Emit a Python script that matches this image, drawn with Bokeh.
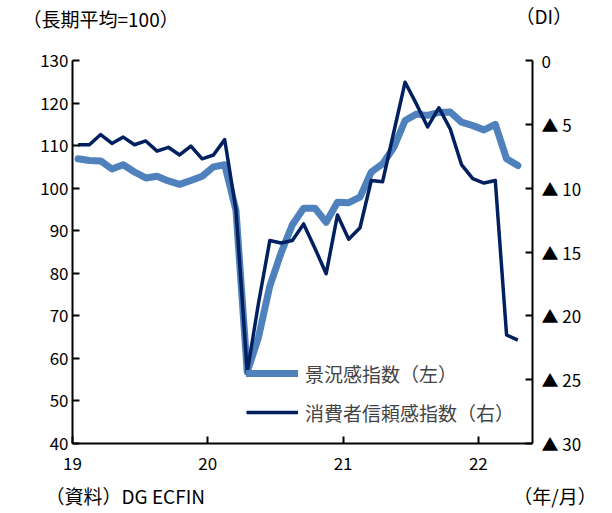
from bokeh.plotting import figure
from bokeh.models import Range1d, LinearAxis, FixedTicker, Label, Legend, LegendItem
from bokeh.embed import file_html
from bokeh.resources import INLINE

# Monthly data, Jan 2019 - Apr 2022
months = [f"{y}/{m}" for y in (19, 20, 21) for m in range(1, 13)] + ["22/1", "22/2", "22/3", "22/4"]

# Economic sentiment indicator (long-term average = 100), left axis
esi = [106.9, 106.5, 106.4, 104.5, 105.5, 103.8, 102.4, 102.8, 101.7, 100.9, 101.8, 102.8,
       105.0, 105.5, 94.8, 56.8, 65.0, 77.0, 84.8, 91.4, 95.3, 95.3, 92.0, 96.7,
       96.6, 97.9, 103.8, 105.7, 109.6, 115.9, 117.4, 117.1, 117.8, 117.9, 115.5, 114.7,
       113.7, 115.0, 106.9, 105.3]

# Consumer confidence indicator (DI), right axis
cci = [-6.6, -6.6, -5.8, -6.5, -6.0, -6.6, -6.3, -7.1, -6.8, -7.4, -6.7, -7.7,
       -7.4, -6.2, -11.7, -24.4, -19.0, -14.1, -14.3, -14.1, -12.8, -14.7, -16.7, -12.1,
       -14.0, -13.1, -9.4, -9.5, -5.6, -1.7, -3.4, -5.2, -3.7, -5.35, -8.15, -9.25,
       -9.6, -9.4, -21.5, -21.9]

year_ticks = [0, 12, 24, 36]
year_labels = ["19", "20", "21", "22"]
left_ticks = [40, 50, 60, 70, 80, 90, 100, 110, 120, 130]
right_ticks = [0, -5, -10, -15, -20, -25, -30]
right_labels = ["0", "▲ 5", "▲ 10", "▲ 15", "▲ 20", "▲ 25", "▲ 30"]

series_names = ["景況感指数（左）", "消費者信頼感指数（右）"]
left_unit = "（長期平均=100）"
right_unit = "（DI）"
source_note = "（資料）DG ECFIN"
x_unit = "（年/月）"

x = [i + 0.5 for i in range(len(months))]

FONT = "Noto Sans CJK JP"

p = figure(width=612, height=513, output_backend="svg", toolbar_location=None,
           x_range=Range1d(0, 40.8), y_range=Range1d(40, 130),
           min_border_left=72, min_border_right=80, min_border_top=60, min_border_bottom=70)
p.extra_y_ranges = {"di": Range1d(-30, 0)}
p.xgrid.visible = False
p.ygrid.visible = False
p.outline_line_color = None

def style_axis(ax):
    ax.axis_line_color = "black"
    ax.axis_line_width = 2
    ax.major_tick_line_color = "black"
    ax.major_tick_line_width = 2
    ax.major_tick_in = 7
    ax.major_tick_out = 0
    ax.minor_tick_line_color = None
    ax.major_label_text_font = FONT
    ax.major_label_text_font_size = "17px"
    ax.major_label_text_color = "black"

p.xaxis.ticker = FixedTicker(ticks=year_ticks)
p.xaxis.major_label_overrides = dict(zip(year_ticks, year_labels))
style_axis(p.xaxis[0])
p.xaxis.major_label_standoff = 13

p.yaxis.ticker = FixedTicker(ticks=left_ticks)
style_axis(p.yaxis[0])
p.yaxis.major_label_standoff = 4

raxis = LinearAxis(y_range_name="di", ticker=FixedTicker(ticks=right_ticks),
                   major_label_overrides=dict(zip(right_ticks, right_labels)))
style_axis(raxis)
raxis.major_label_standoff = 9
p.add_layout(raxis, "right")

r1 = p.line(x, esi, line_width=7, line_color="#4F81BD", line_cap="round", line_join="round")
r2 = p.line(x, cci, y_range_name="di", line_width=3.5, line_color="#002060", line_join="round")

legend = Legend(items=[LegendItem(label=series_names[0], renderers=[r1]),
                       LegendItem(label=series_names[1], renderers=[r2])],
                location=(174, 16), glyph_width=52, glyph_height=30, label_height=30,
                spacing=9, padding=0, margin=0, border_line_color=None,
                background_fill_alpha=0, label_text_font=FONT,
                label_text_font_size="19px", label_standoff=7)
p.add_layout(legend)

def add_text(txt, xx, yy, side):
    p.add_layout(Label(x=xx, y=yy, x_units="screen", y_units="screen", text=txt,
                       text_font=FONT, text_font_size="19px", text_color="black",
                       text_baseline="middle", text_align="left"), side)

# top row: axis unit labels (panel above the frame)
add_text(left_unit, -50, 42, "above")
add_text(right_unit, 443, 18, "above")

# bottom row: source note on the left, x unit on the right (one line below the axis)
add_text(source_note + "\u3000" * 16 + "\u00a0" + x_unit, -27, 4, "below")

open("out.html", "w").write(file_html(p, INLINE))
